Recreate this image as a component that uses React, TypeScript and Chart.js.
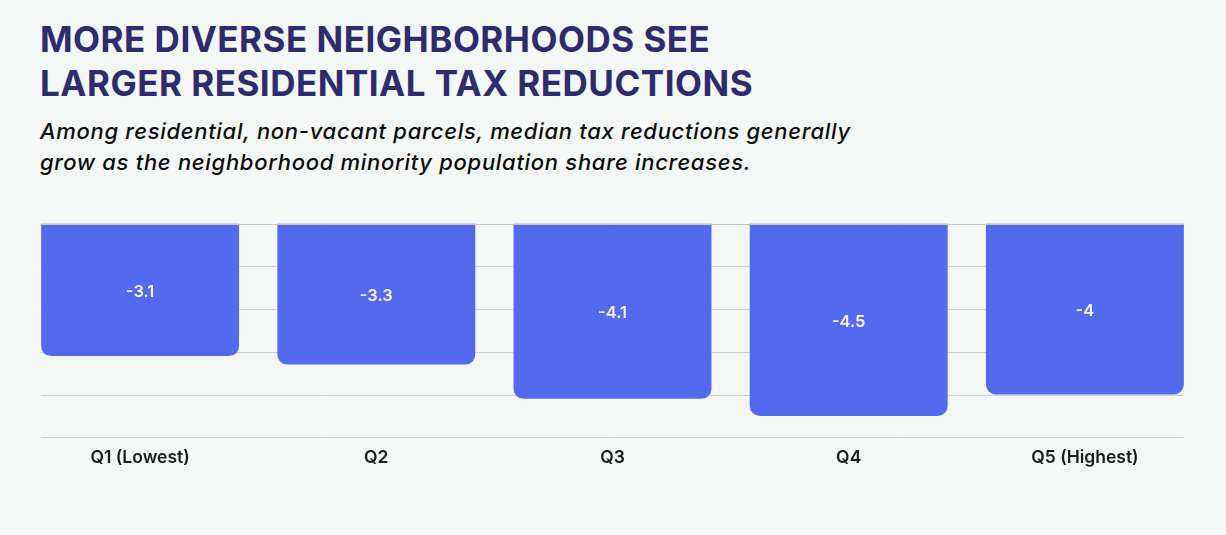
import React, { useEffect, useRef } from "react";
import { Chart, registerables } from "chart.js";

Chart.register(...registerables);

const categories = ["Q1 (Lowest)", "Q2", "Q3", "Q4", "Q5 (Highest)"];
const medianTaxChange = [-3.1, -3.3, -4.1, -4.5, -4];
const yTicks = [0, -1, -2, -3, -4, -5];

const BG = "#f4f7f6";
const BAR = "#546aee";
const GRID = "#cfd2d2";

const gridPlugin = {
  id: "spanGrid",
  beforeDatasetsDraw(chart: any) {
    const meta = chart.getDatasetMeta(0);
    const first = meta.data[0];
    const last = meta.data[meta.data.length - 1];
    const left = first.x - first.width / 2;
    const right = last.x + last.width / 2;
    const y = chart.scales.y;
    const ctx = chart.ctx;
    ctx.save();
    ctx.strokeStyle = GRID;
    ctx.lineWidth = 1;
    yTicks.forEach((t) => {
      const py = Math.round(y.getPixelForValue(t)) + 0.5;
      ctx.beginPath();
      ctx.moveTo(left, py);
      ctx.lineTo(right, py);
      ctx.stroke();
    });
    ctx.restore();
  },
  afterDatasetsDraw(chart: any) {
    const meta = chart.getDatasetMeta(0);
    const ctx = chart.ctx;
    const y = chart.scales.y;
    ctx.save();
    // zero line sits over the top edge of the bars
    const first = meta.data[0];
    const last = meta.data[meta.data.length - 1];
    const zy = Math.round(y.getPixelForValue(0)) + 0.5;
    ctx.strokeStyle = "#c4c7c7";
    ctx.beginPath();
    ctx.moveTo(first.x - first.width / 2, zy);
    ctx.lineTo(last.x + last.width / 2, zy);
    ctx.stroke();
    // value labels in the middle of each bar
    ctx.fillStyle = "#f3f4ff";
    ctx.font = "600 16.5px Inter, 'Noto Sans', sans-serif";
    ctx.textAlign = "center";
    ctx.textBaseline = "middle";
    meta.data.forEach((bar: any, i: number) => {
      const cy = (bar.y + bar.base) / 2 + 2;
      ctx.fillText(String(medianTaxChange[i]), bar.x, cy);
    });
    ctx.restore();
  },
};

export default function App() {
  const canvasRef = useRef<HTMLCanvasElement | null>(null);

  useEffect(() => {
    const canvas = canvasRef.current;
    if (!canvas) return;
    const chart = new Chart(canvas, {
      type: "bar",
      data: {
        labels: categories,
        datasets: [
          {
            data: medianTaxChange,
            backgroundColor: BAR,
            borderRadius: 10,
            borderSkipped: "start",
            barPercentage: 0.838,
            categoryPercentage: 1,
          },
        ],
      },
      options: {
        animation: false,
        responsive: false,
        maintainAspectRatio: false,
        layout: { padding: { left: 22, right: 23, top: 23.5, bottom: 22.7 } },
        plugins: {
          legend: { display: false },
          tooltip: { enabled: false },
          title: { display: false },
        },
        scales: {
          x: {
            offset: true,
            grid: { display: false, drawTicks: false },
            border: { display: false },
            ticks: {
              color: "#1b1b1b",
              padding: 10,
              font: { family: "Inter, 'Noto Sans', sans-serif", size: 17.5, weight: "600" },
            },
            afterFit: (scale: any) => {
              scale.height = 40;
            },
          },
          y: {
            display: false,
            min: -5,
            max: 0,
          },
        },
      },
      plugins: [gridPlugin],
    });
    return () => chart.destroy();
  }, []);

  return (
    <div
      style={{
        position: "fixed",
        left: 0,
        top: 0,
        width: 1226,
        height: 535,
        background: BG,
        overflow: "hidden",
      }}
    >
      <div
        style={{
          position: "absolute",
          left: 40,
          top: 18,
          fontFamily: "Inter, 'Noto Sans', sans-serif",
          fontWeight: 700,
          fontSize: 35,
          lineHeight: "43.5px",
          letterSpacing: "0.5px",
          color: "#302a6e",
          whiteSpace: "nowrap",
        }}
      >
        <div>MORE DIVERSE NEIGHBORHOODS SEE</div>
        <div>LARGER RESIDENTIAL TAX REDUCTIONS</div>
      </div>
      <div
        style={{
          position: "absolute",
          left: 40,
          top: 115.5,
          fontFamily: "Inter, 'Noto Sans', sans-serif",
          fontStyle: "italic",
          fontWeight: 500,
          fontSize: 22,
          lineHeight: "31.5px",
          letterSpacing: "0.7px",
          color: "#0d0d0d",
          whiteSpace: "nowrap",
        }}
      >
        <div>Among residential, non-vacant parcels, median tax reductions generally</div>
        <div>grow as the neighborhood minority population share increases.</div>
      </div>
      <canvas
        ref={canvasRef}
        width={1226}
        height={300}
        style={{ position: "absolute", left: 0, top: 200, width: 1226, height: 300 }}
      />
    </div>
  );
}
